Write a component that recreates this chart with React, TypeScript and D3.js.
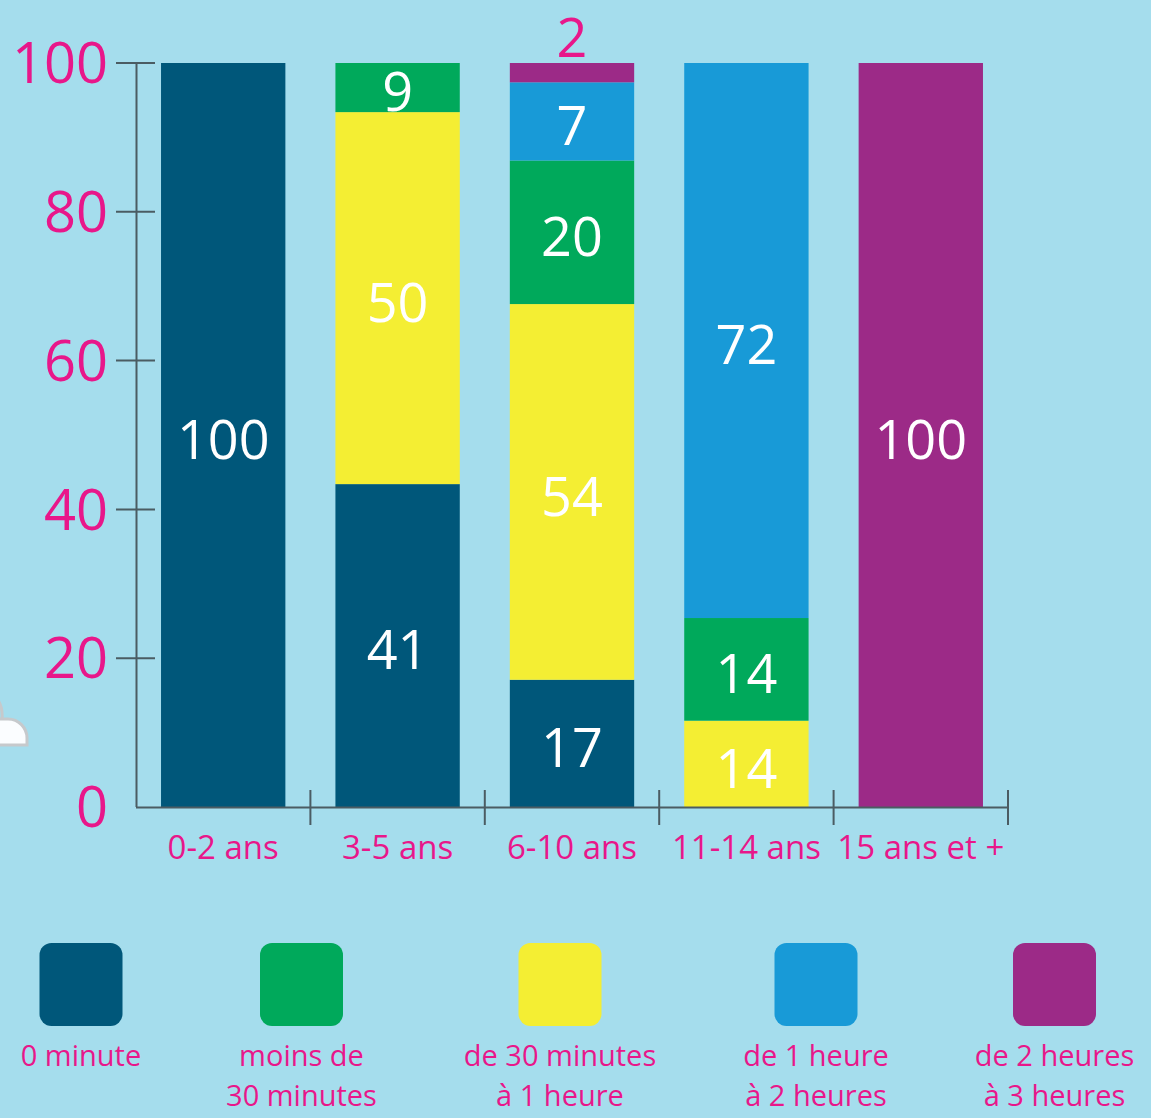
import React, { useEffect, useRef } from 'react'
import { select, scaleBand, scaleLinear, stack } from 'd3'

// age groups
const categories = ['0-2 ans', '3-5 ans', '6-10 ans', '11-14 ans', '15 ans et +']

// series, in legend order
const keys = ['zero', 'moins30', 'demiHeure', 'uneDeux', 'deuxTrois']
// order in which they are stacked, bottom first
const stackOrder = ['zero', 'demiHeure', 'moins30', 'uneDeux', 'deuxTrois']

// bar heights as drawn (percent)
const zero = [100, 43.4, 17.1, 0, 0]
const moins30 = [0, 6.6, 19.3, 13.8, 0]
const demiHeure = [0, 50, 50.5, 11.6, 0]
const uneDeux = [0, 0, 10.5, 74.6, 0]
const deuxTrois = [0, 0, 2.6, 0, 100]

// printed numbers
const zeroLabels = [100, 41, 17, null, null]
const moins30Labels = [null, 9, 20, 14, null]
const demiHeureLabels = [null, 50, 54, 14, null]
const uneDeuxLabels = [null, null, 7, 72, null]
const deuxTroisLabels = [null, null, 2, null, 100]

const yTicks = [0, 20, 40, 60, 80, 100]

const legendLines = [
  ['0 minute'],
  ['moins de', '30 minutes'],
  ['de 30 minutes', 'à 1 heure'],
  ['de 1 heure', 'à 2 heures'],
  ['de 2 heures', 'à 3 heures'],
]

const colors = {
  zero: '#00577a',
  moins30: '#00a95b',
  demiHeure: '#f4ee33',
  uneDeux: '#189ad7',
  deuxTrois: '#9c2a87',
}
const magenta = '#e8178a'
const bg = '#a5dded'
const axisColor = '#4b5c63'
const font = '"Open Sans", sans-serif'

const W = 1151
const H = 1118
const legendX = [81, 301.5, 560, 816, 1054.5]

function StackedChart() {
  const svgRef = useRef(null)

  useEffect(() => {
    const svg = select(svgRef.current)
    svg.selectAll('*').remove()

    const data = categories.map((c, i) => ({
      cat: c,
      zero: zero[i],
      moins30: moins30[i],
      demiHeure: demiHeure[i],
      uneDeux: uneDeux[i],
      deuxTrois: deuxTrois[i],
    }))
    const labels = {
      zero: zeroLabels,
      moins30: moins30Labels,
      demiHeure: demiHeureLabels,
      uneDeux: uneDeuxLabels,
      deuxTrois: deuxTroisLabels,
    }

    const layers = stack().keys(stackOrder)(data)

    const x = scaleBand()
      .domain(categories)
      .range([136, 1008])
      .paddingInner(0.287)
      .paddingOuter(0.1435)
    const xEdge = scaleBand().domain(categories).range([136, 1008])

    const y = scaleLinear().domain([0, 100]).range([807, 63])

    svg.append('rect').attr('width', W).attr('height', H).attr('fill', bg)

    // small white shape on the left edge
    svg.append('path')
      .attr('d', 'M-2,719 L8,719 A19,19 0 0 1 27,738 L27,745 L-2,745 Z')
      .attr('fill', '#fbfdff')
      .attr('stroke', '#c6c9cc')
      .attr('stroke-width', 3)
    svg.append('path')
      .attr('d', 'M-2,700 Q3,708 2,719')
      .attr('fill', 'none')
      .attr('stroke', '#c6c9cc')
      .attr('stroke-width', 3)

    // bars
    layers.forEach(layer => {
      svg.append('g')
        .selectAll('rect')
        .data(layer)
        .join('rect')
        .attr('x', d => x(d.data.cat))
        .attr('width', x.bandwidth())
        .attr('y', d => y(d[1]))
        .attr('height', d => y(d[0]) - y(d[1]))
        .attr('fill', colors[layer.key])
    })

    // y axis
    const ya = svg.append('g')
    ya.append('line')
      .attr('x1', 136.5).attr('x2', 136.5)
      .attr('y1', y(100)).attr('y2', y(0))
      .attr('stroke', axisColor).attr('stroke-width', 2)
    yTicks.forEach(t => {
      if (t > 0) {
        ya.append('line')
          .attr('x1', 116).attr('x2', 155)
          .attr('y1', y(t)).attr('y2', y(t))
          .attr('stroke', axisColor).attr('stroke-width', 2)
      }
      ya.append('text')
        .attr('x', 108)
        .attr('y', y(t))
        .attr('dy', '0.36em')
        .attr('text-anchor', 'end')
        .attr('fill', magenta)
        .attr('font-family', font)
        .attr('font-size', 56)
        .text(t)
    })

    // x axis
    const xa = svg.append('g')
    xa.append('line')
      .attr('x1', 136).attr('x2', 1008)
      .attr('y1', 807.5).attr('y2', 807.5)
      .attr('stroke', axisColor).attr('stroke-width', 2)
    categories.forEach(c => {
      const edge = xEdge(c) + xEdge.bandwidth()
      xa.append('line')
        .attr('x1', edge).attr('x2', edge)
        .attr('y1', 790).attr('y2', 825)
        .attr('stroke', axisColor).attr('stroke-width', 2)
      xa.append('text')
        .attr('x', x(c) + x.bandwidth() / 2)
        .attr('y', 859)
        .attr('text-anchor', 'middle')
        .attr('fill', magenta)
        .attr('font-family', font)
        .attr('font-size', 33)
        .text(c)
    })

    // value labels
    layers.forEach(layer => {
      layer.forEach((d, ci) => {
        const lab = labels[layer.key][ci]
        if (lab == null) return
        const top = y(d[1])
        const bottom = y(d[0])
        const small = bottom - top < 30
        svg.append('text')
          .attr('x', x(d.data.cat) + x.bandwidth() / 2)
          .attr('y', small ? top - 25 : (top + bottom) / 2)
          .attr('dy', small ? '0.36em' : '0.44em')
          .attr('text-anchor', 'middle')
          .attr('fill', small ? magenta : '#ffffff')
          .attr('font-family', font)
          .attr('font-size', 54)
          .text(lab)
      })
    })

    // legend
    keys.forEach((k, i) => {
      const cx = legendX[i]
      svg.append('rect')
        .attr('x', cx - 41.5).attr('y', 943)
        .attr('width', 83).attr('height', 83)
        .attr('rx', 12)
        .attr('fill', colors[k])
      legendLines[i].forEach((ln, j) => {
        svg.append('text')
          .attr('x', cx)
          .attr('y', 1066 + j * 40)
          .attr('text-anchor', 'middle')
          .attr('fill', magenta)
          .attr('font-family', font)
          .attr('font-size', 29)
          .text(ln)
      })
    })
  }, [])

  return <svg ref={svgRef} width={W} height={H} style={{ display: 'block' }} />
}

export default function App() {
  return (
    <div style={{ position: 'absolute', left: 0, top: 0, width: W, height: H, overflow: 'hidden' }}>
      <StackedChart />
    </div>
  )
}
